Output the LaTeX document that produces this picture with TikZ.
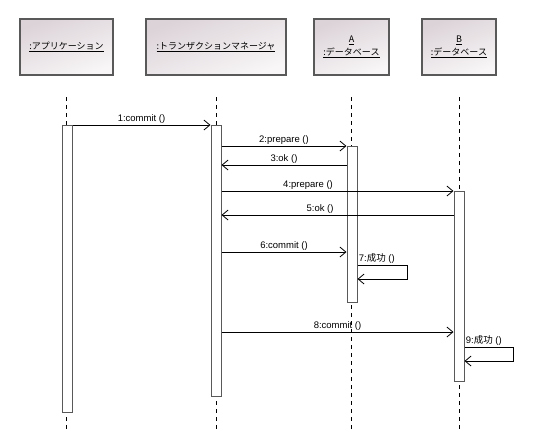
\documentclass[tikz,border=0pt]{standalone}
\usepackage{fontspec}
\setmainfont{Liberation Sans}
\newfontfamily\jp{Noto Sans CJK JP}
\usepackage{tikz}
\usetikzlibrary{arrows.meta,positioning}
\definecolor{hdrpink}{RGB}{220,211,216}
\definecolor{hdrlight}{RGB}{248,246,247}

\begin{document}
\begin{tikzpicture}[x=1pt, y=-1pt,
  hdr/.style={draw=black!65, line width=1.2pt, top color=hdrpink,
    bottom color=hdrlight, shading angle=20, minimum height=56pt,
    inner sep=0pt, align=center, font=\jp\fontsize{9}{13}\selectfont},
  bar/.style={draw=black!65, fill=white, line width=1pt,
    minimum width=10pt, inner sep=0pt, anchor=north},
  life/.style={dash pattern=on 4pt off 4pt, line width=0.8pt},
  msg/.style={-{Straight Barb[length=6pt, width=10pt]}, line width=0.8pt},
  lbl/.style={font=\fontsize{9.5}{11}\selectfont, inner sep=1pt, above},
]
  \useasboundingbox (0,0) rectangle (550,448);

  % header boxes
  \node[hdr, minimum width=93pt] (app) at (66.5,47)
    {\underline{:アプリケーション}};
  \node[hdr, minimum width=140pt] (mgr) at (216,47)
    {\underline{:トランザクションマネージャ}};
  \node[hdr, minimum width=75pt] (dba) at (351.5,47)
    {\underline{A}\\\underline{:データベース}};
  \node[hdr, minimum width=74pt] (dbb) at (459,47)
    {\underline{B}\\\underline{:データベース}};

  % lifelines
  \draw[life] (66.5,97) -- (66.5,432);
  \draw[life] (216,97) -- (216,432);
  \draw[life] (351.5,97) -- (351.5,432);
  \draw[life] (459,97) -- (459,432);

  % activation bars
  \node[bar, minimum height=287pt] (appbar) at (67,125) {};
  \node[bar, minimum height=271pt] (mgrbar) at (216,125) {};
  \node[bar, minimum height=156pt] (abar) at (352,146) {};
  \node[bar, minimum height=190pt] (bbar) at (459,191) {};

  % messages
  \draw[msg] (appbar.north east) -- (mgrbar.north west)
    node[lbl, midway] {1:commit ()};
  \draw[msg] (mgrbar.east |- abar.north) -- (abar.north west)
    node[lbl, midway] {2:prepare ()};
  \draw[msg] (abar.west |- 0,165) -- (mgrbar.east |- 0,165)
    node[lbl, midway] {3:ok ()};
  \draw[msg] (mgrbar.east |- bbar.north) -- (bbar.north west)
    node[lbl, pos=0.373] {4:prepare ()};
  \draw[msg] (bbar.west |- 0,215) -- (mgrbar.east |- 0,215)
    node[lbl, pos=0.575] {5:ok ()};
  \draw[msg] (mgrbar.east |- 0,252) -- (abar.west |- 0,252)
    node[lbl, midway] {6:commit ()};
  \draw[msg] (abar.east |- 0,265)
    node[lbl, anchor=south west] {7:{\jp 成功} ()}
    -| (407,279) -- (abar.east |- 0,279);
  \draw[msg] (mgrbar.east |- 0,332) -- (bbar.west |- 0,332)
    node[lbl, midway] {8:commit ()};
  \draw[msg] (bbar.east |- 0,347)
    node[lbl, anchor=south west] {9:{\jp 成功} ()}
    -| (513,361) -- (bbar.east |- 0,361);
\end{tikzpicture}
\end{document}
